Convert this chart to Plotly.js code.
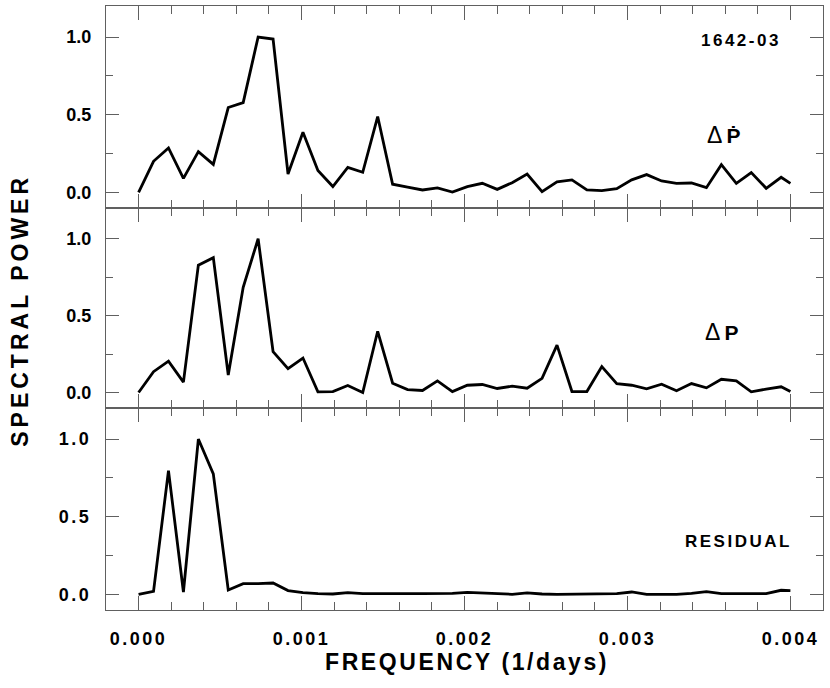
<!DOCTYPE html>
<html>
<head>
<meta charset="utf-8">
<script src="https://cdn.plot.ly/plotly-3.0.1.min.js"></script>
<style>
  html, body { margin: 0; padding: 0; background: #fff; }
  .xtick text, .ytick text { letter-spacing: 2.5px; }
</style>
</head>
<body>
<div id="chart" style="width:830px;height:688px;"></div>
<script>
// Frequency grid (1/days)
const freq = [0, 0.0000917, 0.0001834, 0.0002751, 0.0003668, 0.0004585, 0.0005502, 0.0006419,
  0.0007336, 0.0008253, 0.000917, 0.0010087, 0.0011004, 0.0011921, 0.0012838, 0.0013755,
  0.0014672, 0.0015589, 0.0016506, 0.0017423, 0.001834, 0.0019257, 0.0020174, 0.0021091,
  0.0022008, 0.0022925, 0.0023842, 0.0024759, 0.0025676, 0.0026593, 0.002751, 0.0028427,
  0.0029344, 0.0030261, 0.0031178, 0.0032095, 0.0033012, 0.0033929, 0.0034846, 0.0035763,
  0.003668, 0.0037597, 0.0038514, 0.0039431, 0.004];

// Spectral power, ΔṖ panel (top)
const powerPdot = [0.0, 0.20, 0.286, 0.09, 0.262, 0.18, 0.546, 0.578, 1.0, 0.987,
  0.118, 0.387, 0.14, 0.037, 0.161, 0.129, 0.488, 0.052, 0.034, 0.015,
  0.028, 0.002, 0.037, 0.058, 0.019, 0.062, 0.118, 0.004, 0.067, 0.08,
  0.015, 0.011, 0.024, 0.08, 0.114, 0.073, 0.058, 0.06, 0.03, 0.178,
  0.058, 0.127, 0.026, 0.097, 0.058];

// Spectral power, ΔP panel (middle)
const powerP = [0, 0.135, 0.204, 0.067, 0.828, 0.877, 0.114, 0.684, 1.0, 0.265,
  0.155, 0.224, 0.004, 0.006, 0.045, 0.0, 0.398, 0.06, 0.019, 0.013,
  0.075, 0.006, 0.047, 0.052, 0.026, 0.041, 0.028, 0.092, 0.308, 0.006,
  0.006, 0.168, 0.058, 0.047, 0.024, 0.054, 0.011, 0.058, 0.03, 0.086,
  0.075, 0.004, 0.022, 0.037, 0.006];

// Spectral power, residual panel (bottom)
const powerResid = [0, 0.019, 0.797, 0.015, 1.0, 0.776, 0.028, 0.069, 0.069, 0.073,
  0.024, 0.011, 0.004, 0.002, 0.011, 0.004, 0.004, 0.006, 0.004, 0.004,
  0.004, 0.006, 0.013, 0.008, 0.006, 0.0, 0.009, 0.002, 0.0, 0.0,
  0.0, 0.0, 0.004, 0.015, 0.0, 0.0, 0.0, 0.006, 0.017, 0.004,
  0.004, 0.0, 0.004, 0.026, 0.024];

const FONT = 'Liberation Sans, Arial, Helvetica, sans-serif';
const AX = '#606060';
const line = { color: '#000', width: 2.8 };

const traces = [
  { x: freq, y: powerResid, xaxis: 'x', yaxis: 'y', type: 'scatter', mode: 'lines', line: line, hoverinfo: 'skip' },
  { x: freq, y: powerP, xaxis: 'x2', yaxis: 'y2', type: 'scatter', mode: 'lines', line: line, hoverinfo: 'skip' },
  { x: freq, y: powerPdot, xaxis: 'x3', yaxis: 'y3', type: 'scatter', mode: 'lines', line: line, hoverinfo: 'skip' }
];

function xAxis(anchor, labels) {
  return {
    anchor: anchor, range: [-0.0002, 0.0042], showgrid: false, zeroline: false,
    showline: true, linecolor: AX, linewidth: 1, mirror: 'ticks',
    ticks: 'inside', ticklen: 14, tickwidth: 1, tickcolor: AX,
    tickmode: 'linear', tick0: 0, dtick: 0.001, tickformat: '.3f',
    showticklabels: labels, ticklabelstandoff: 12,
    tickfont: { family: FONT, size: 18, weight: 'bold', color: '#000' },
    minor: { dtick: 0.0002, ticks: 'inside', ticklen: 8, tickwidth: 1, tickcolor: AX, showgrid: false }
  };
}
function yAxis(anchor, domain) {
  return {
    anchor: anchor, domain: domain, range: [-0.101, 1.2], showgrid: false, zeroline: false,
    showline: true, linecolor: AX, linewidth: 1, mirror: 'ticks',
    ticks: 'inside', ticklen: 13, tickwidth: 1, tickcolor: AX,
    tickmode: 'linear', tick0: 0, dtick: 0.5, tickformat: '.1f',
    ticklabelstandoff: 10,
    tickfont: { family: FONT, size: 18, weight: 'bold', color: '#000' },
    minor: { dtick: 0.25, ticks: 'inside', ticklen: 7, tickwidth: 1, tickcolor: AX, showgrid: false }
  };
}

const ann = (text, x, y, size, extra) => Object.assign({
  text: text, xref: 'paper', yref: 'paper', x: x, y: y,
  xanchor: 'center', yanchor: 'middle', showarrow: false,
  font: { family: FONT, size: size, weight: 'bold', color: '#000' }
}, extra || {});

const DELTA = '<span style="font-size:23px">Δ</span>\u2009';
const NORMAL = { family: FONT, size: 21, weight: 'normal', color: '#000' };

const b1 = 202 / 604, b2 = 402 / 604;

const layout = {
  width: 830, height: 688,
  margin: { l: 106, r: 7, t: 6, b: 78 },
  paper_bgcolor: '#fff', plot_bgcolor: '#fff',
  showlegend: false,
  xaxis: xAxis('y', true),
  xaxis2: Object.assign(xAxis('y2', false), { matches: 'x' }),
  xaxis3: Object.assign(xAxis('y3', false), { matches: 'x' }),
  yaxis: yAxis('x', [0, b1]),
  yaxis2: yAxis('x2', [b1, b2]),
  yaxis3: yAxis('x3', [b2, 1]),
  annotations: [
    ann('<span style="letter-spacing:2.6px">FREQUENCY (1/days)</span>', 0.503, -0.086, 23),
    ann('<span style="letter-spacing:4px">SPECTRAL POWER</span>', -0.120, 0.497, 23, { textangle: -90 }),
    ann('<span style="letter-spacing:2.5px">1642-03</span>', 0.8856, 0.9437, 17),
    ann(DELTA + '<b>Ṗ</b>', 0.862, 0.786, 21, { font: NORMAL }),
    ann(DELTA + '<b>P</b>', 0.859, 0.4603, 21, { font: NORMAL }),
    ann('<span style="letter-spacing:2.5px">RESIDUAL</span>', 0.8815, 0.1142, 17)
  ]
};

Plotly.newPlot('chart', traces, layout, { staticPlot: true, displayModeBar: false });
</script>
</body>
</html>
